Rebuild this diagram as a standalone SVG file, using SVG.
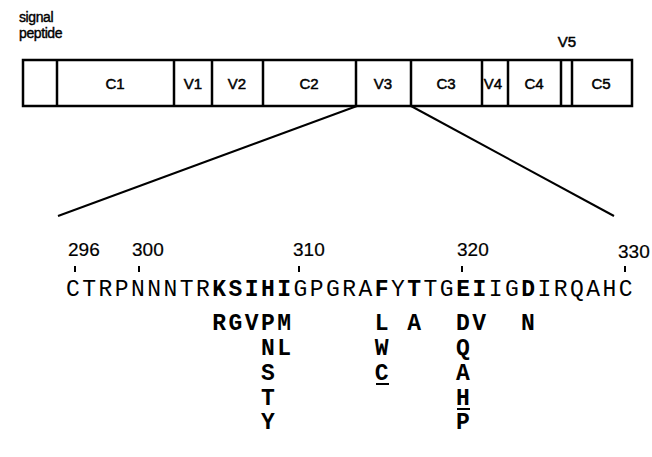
<svg xmlns="http://www.w3.org/2000/svg" width="652" height="457" viewBox="0 0 652 457">
<style>
.box{fill:#fff;stroke:#000;stroke-width:2.5}
.div{stroke:#000;stroke-width:2.5}
.lbl{font-family:"Liberation Sans",Arial,sans-serif;font-size:15px;fill:#000;stroke:#000;stroke-width:0.5;text-anchor:middle}
.sig{font-family:"Liberation Sans",Arial,sans-serif;font-size:14px;fill:#000;stroke:#000;stroke-width:0.4;letter-spacing:-0.4px}
.num{font-family:"Liberation Sans",Arial,sans-serif;font-size:19px;fill:#000;stroke:#000;stroke-width:0.2}
.seq{font-family:"Liberation Mono","Courier New",monospace;font-size:23px;letter-spacing:2.45px;fill:#000}
.b{font-weight:bold}
.sub{font-family:"Liberation Mono","Courier New",monospace;font-size:23px;letter-spacing:2.45px;font-weight:bold;fill:#000}
.conn{stroke:#000;stroke-width:2;fill:none}
.tick{stroke:#000;stroke-width:2}
.ul{stroke:#000;stroke-width:2}
</style>
<g id="signal-label">
<text class="sig" x="19" y="22">signal</text>
<text class="sig" x="19" y="38">peptide</text>
</g>
<g id="envelope">
<rect class="box" x="23" y="60" width="609" height="46"/>
<line class="div" x1="57" y1="60" x2="57" y2="106"/>
<line class="div" x1="174" y1="60" x2="174" y2="106"/>
<line class="div" x1="212" y1="60" x2="212" y2="106"/>
<line class="div" x1="263" y1="60" x2="263" y2="106"/>
<line class="div" x1="356" y1="60" x2="356" y2="106"/>
<line class="div" x1="411" y1="60" x2="411" y2="106"/>
<line class="div" x1="482" y1="60" x2="482" y2="106"/>
<line class="div" x1="508" y1="60" x2="508" y2="106"/>
<line class="div" x1="561" y1="60" x2="561" y2="106"/>
<line class="div" x1="572" y1="60" x2="572" y2="106"/>
</g>
<g id="region-labels">
<text class="lbl" x="115" y="89">C1</text>
<text class="lbl" x="193" y="89">V1</text>
<text class="lbl" x="237" y="89">V2</text>
<text class="lbl" x="309" y="89">C2</text>
<text class="lbl" x="383" y="89">V3</text>
<text class="lbl" x="446" y="89">C3</text>
<text class="lbl" x="493" y="89">V4</text>
<text class="lbl" x="534" y="89">C4</text>
<text class="lbl" x="601" y="89">C5</text>
<text class="lbl" x="567" y="47">V5</text>
</g>
<g id="connectors">
<line class="conn" x1="357" y1="106" x2="58" y2="216"/>
<line class="conn" x1="411" y1="106" x2="614" y2="216"/>
</g>
<g id="numbers">
<text class="num" x="68" y="256">296</text>
<text class="num" x="132" y="256">300</text>
<text class="num" x="293" y="256">310</text>
<text class="num" x="457" y="256">320</text>
<text class="num" x="618" y="258">330</text>
<line class="tick" x1="75" y1="266" x2="75" y2="272"/>
<line class="tick" x1="139" y1="266" x2="139" y2="272"/>
<line class="tick" x1="299" y1="266" x2="299" y2="272"/>
<line class="tick" x1="462" y1="266" x2="462" y2="272"/>
<line class="tick" x1="625" y1="266" x2="625" y2="272"/>
</g>
<g id="sequence">
<text class="seq" x="66" y="296">CTRPNNNTR<tspan class="b">KSIHI</tspan>GPGRA<tspan class="b">F</tspan>Y<tspan class="b">T</tspan>TG<tspan class="b">EI</tspan>IG<tspan class="b">D</tspan>IRQAHC</text>
</g>
<g id="substitutions">
<text class="sub" x="212.25" y="330">RGVPM</text>
<text class="sub" x="374.75" y="330">L</text>
<text class="sub" x="407.25" y="330">A</text>
<text class="sub" x="456" y="330">DV</text>
<text class="sub" x="521" y="330">N</text>
<text class="sub" x="261" y="355">NL</text>
<text class="sub" x="374.75" y="355">W</text>
<text class="sub" x="456" y="355">Q</text>
<text class="sub" x="261" y="380">S</text>
<text class="sub" x="374.75" y="380">C</text>
<line class="ul" x1="376" y1="384" x2="389" y2="384"/>
<text class="sub" x="456" y="380">A</text>
<text class="sub" x="261" y="405">T</text>
<text class="sub" x="456" y="405">H</text>
<line class="ul" x1="457" y1="409" x2="470" y2="409"/>
<text class="sub" x="261" y="429">Y</text>
<text class="sub" x="456" y="429">P</text>
</g>
</svg>
